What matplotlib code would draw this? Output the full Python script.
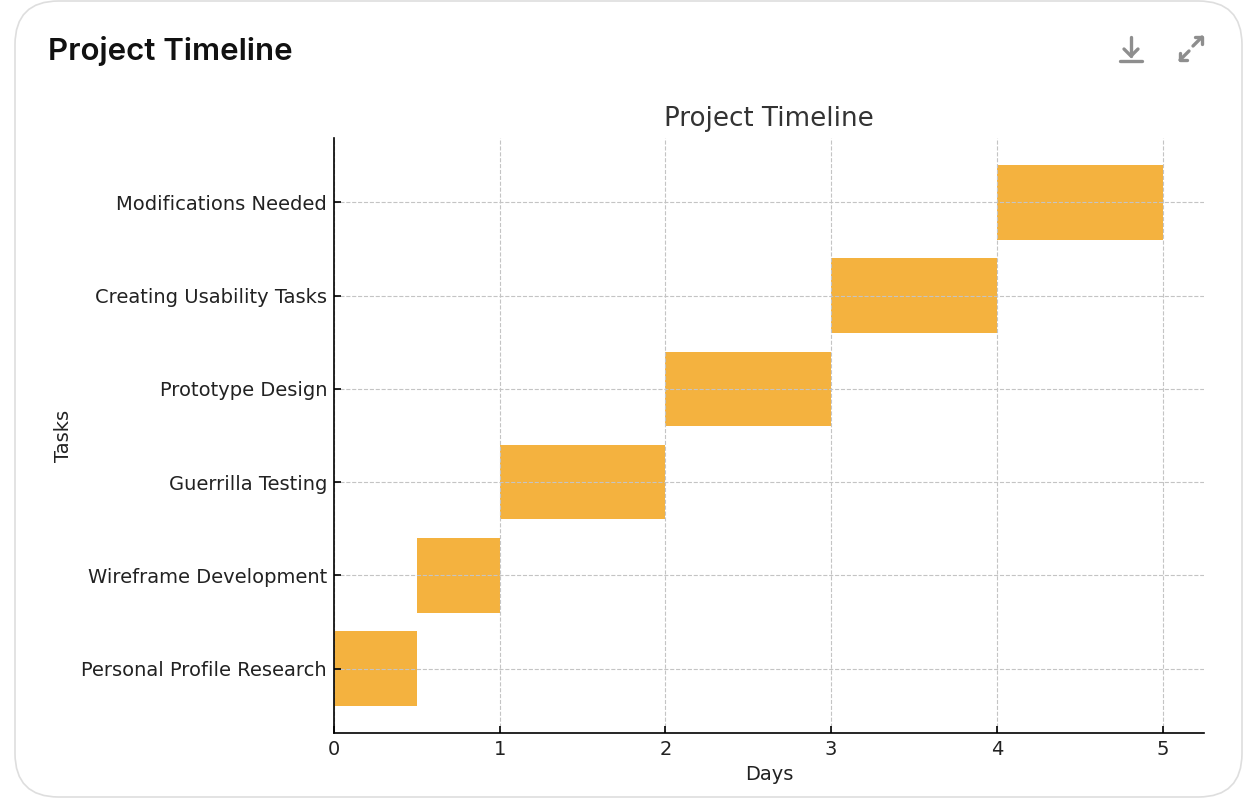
import matplotlib.pyplot as plt
from matplotlib.patches import FancyBboxPatch
from matplotlib.lines import Line2D

tasks = ['Personal Profile Research', 'Wireframe Development', 'Guerrilla Testing',
         'Prototype Design', 'Creating Usability Tasks', 'Modifications Needed']
start_days = [0, 0.5, 1, 2, 3, 4]
durations = [0.5, 0.5, 1, 1, 1, 1]

W, H = 1248, 802
fig = plt.figure(figsize=(W / 100, H / 100), dpi=100)

# card frame (behind the axes)
card = FancyBboxPatch((15 / W, 5 / H), 1227 / W, 796 / H,
                      boxstyle='round,pad=0,rounding_size=0.035',
                      transform=fig.transFigure, facecolor='white',
                      edgecolor='#dedede', linewidth=1.2, mutation_aspect=W / H,
                      zorder=-5)
fig.patches.append(card)
fig.text(48 / W, 1 - 51 / H, 'Project Timeline', fontsize=22.5, fontweight='semibold',
         family=['Inter', 'DejaVu Sans'], va='center', ha='left', color='#111111')

# header icons
icon = dict(color='#8e8e8e', linewidth=2.4, solid_capstyle='round', transform=fig.transFigure)
def fl(xs, ys):
    fig.add_artist(Line2D([x / W for x in xs], [1 - y / H for y in ys], **icon))
fl([1131, 1131], [37, 56])
fl([1124, 1131, 1138], [49, 56, 49])
fl([1120, 1142], [61, 61])
fl([1193, 1202], [46, 37])
fl([1195, 1202, 1202], [37, 37, 44])
fl([1180, 1189], [60, 51])
fl([1180, 1180, 1187], [53, 60, 60])

ax = fig.add_axes([334 / W, 69 / H, 870 / W, 595 / H])
ax.barh(tasks, durations, left=start_days, height=0.8, color='#f4b23f')
ax.set_title('Project Timeline', fontsize=18.8, color='#333333', pad=9)
ax.set_xlabel('Days', fontsize=14, color='#222222', labelpad=4)
ax.set_ylabel('Tasks', fontsize=14, color='#222222', labelpad=6)
ax.tick_params(labelsize=14, direction='in', length=5, width=1.2, pad=5,
               labelcolor='#222222')
# grid sits on top of the bars, like the reference
ax.grid(True, linestyle='--', color='#c4c4c4', linewidth=0.8)
ax.set_axisbelow(False)
for s in ['top', 'right']:
    ax.spines[s].set_visible(False)
for s in ['left', 'bottom']:
    ax.spines[s].set_linewidth(1.2)
    ax.spines[s].set_zorder(4)

fig.savefig('out.png', dpi=100)
